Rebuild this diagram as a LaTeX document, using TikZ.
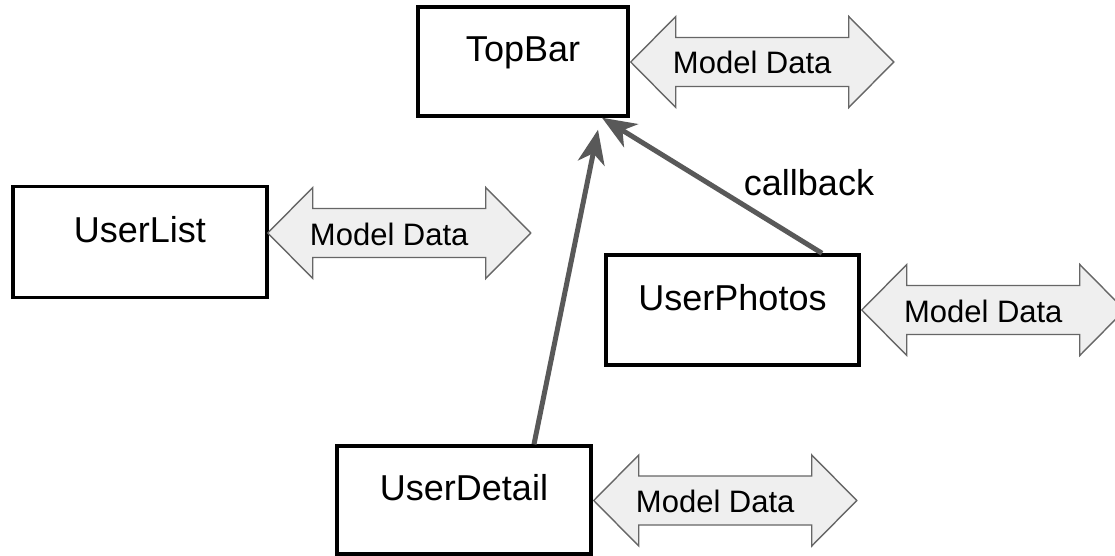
\documentclass[tikz,border=0pt]{standalone}
\usepackage{fontspec}
\setmainfont{Liberation Sans}
\usetikzlibrary{arrows.meta,calc}
\definecolor{connc}{HTML}{595959}
\definecolor{mdfill}{HTML}{EFEFEF}
\definecolor{mdline}{HTML}{666666}
\tikzset{
  compbox/.style={draw=black, line width=3.5pt, fill=white, inner sep=0pt,
    text height=20pt, text depth=20pt, font=\fontsize{36}{43}\selectfont},
  mdshape/.style={draw=mdline, fill=mdfill, line width=1.4pt, line join=miter},
  mdtext/.style={anchor=base, inner sep=0pt, font=\fontsize{31}{37}\selectfont},
  connarrow/.style={draw=connc, line width=5pt,
    -{Stealth[length=34pt, width=27pt, inset=10pt]}},
  lbl/.style={anchor=base, inner sep=0pt, font=\fontsize{36}{43}\selectfont}
}
\newcommand\mdarrow[2]{%
  \draw[mdshape] (#2) -- ++(45,-45.5) -- ++(0,21) -- ++(173,0) -- ++(0,-21)
    -- ++(45,45.5) -- ++(-45,45.5) -- ++(0,-21) -- ++(-173,0) -- ++(0,21) -- cycle;
  \node[mdtext] (#1) at ($(#2)+(121.5,12)$) {Model Data};}
\begin{document}
\begin{tikzpicture}[x=1pt, y=-1pt]
\useasboundingbox (0,0) rectangle (1115,556);

\node[compbox, minimum width=210pt, minimum height=109pt] (topbar) at (523,61.5) {TopBar};
\node[compbox, minimum width=254pt, minimum height=111pt] (userlist) at (140,242) {UserList};
\node[compbox, minimum width=253pt, minimum height=110pt] (uphotos) at (732.5,310) {UserPhotos};
\node[compbox, minimum width=254pt, minimum height=108pt] (udetail) at (464,500) {UserDetail};

\coordinate (mdA) at ($(topbar.east)+(1,0.5)$);
\coordinate (mdB) at ($(userlist.east)+(-1,-9)$);
\coordinate (mdC) at ($(uphotos.east)+(1,0)$);
\coordinate (mdD) at ($(udetail.east)+(1,0.5)$);
\mdarrow{mdtA}{mdA}
\mdarrow{mdtB}{mdB}
\mdarrow{mdtC}{mdC}
\mdarrow{mdtD}{mdD}

\coordinate (detailStart) at ([xshift=70pt]udetail.north);
\coordinate (detailEnd) at ([xshift=75pt, yshift=-12pt]topbar.south);
\coordinate (photosStart) at ([xshift=89.5pt]uphotos.north);
\coordinate (photosEnd) at ([xshift=79pt]topbar.south);

\draw[connarrow] (detailStart) -- (detailEnd);
\draw[connarrow] (photosStart) -- (photosEnd);

\node[lbl] (cb) at (809,195) {callback};
\end{tikzpicture}
\end{document}
